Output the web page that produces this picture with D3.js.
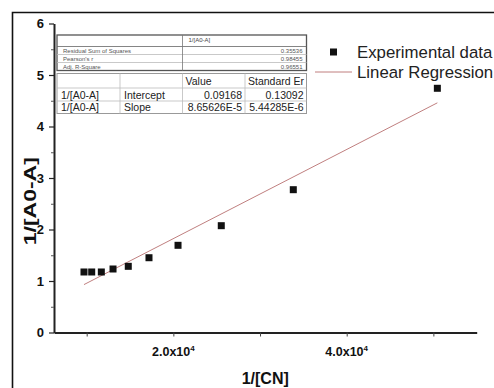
<!DOCTYPE html>
<html>
<head>
<meta charset="utf-8">
<script src="https://cdn.jsdelivr.net/npm/d3@7"></script>
<style>
  html, body { margin: 0; padding: 0; background: #fff; }
  svg { display: block; font-family: "Liberation Sans", Arial, sans-serif; }
</style>
</head>
<body>
<svg id="chart" width="494" height="388"></svg>
<script>
// 1/[CN] versus 1/[A0-A] measurements
const invCN   = [9690, 10580, 11690, 13040, 14800, 17190, 20540, 25530, 33840, 50460];
const invA0A  = [1.175, 1.175, 1.175, 1.233, 1.285, 1.452, 1.693, 2.074, 2.773, 4.742];

// linear fit results
const intercept = 0.09168;
const slope = 8.65626e-5;

// axis ticks
const xMajorTicks = [20000, 40000];
const xAllTicks = [10000, 20000, 30000, 40000, 50000];
const xTickLabels = ["2.0x10", "4.0x10"];
const yMajorTicks = [0, 1, 2, 3, 4, 5, 6];
const yMinorTicks = [0.5, 1.5, 2.5, 3.5, 4.5, 5.5];

// fit statistics tables
const statsHeader = "1/[A0-A]";
const statsNames = ["Residual Sum of Squares", "Pearson's r", "Adj. R-Square"];
const statsValues = ["0.35536", "0.98455", "0.96551"];
const paramHeader = ["", "", "Value", "Standard Er"];
const paramRows = [
  ["1/[A0-A]", "Intercept", "0.09168", "0.13092"],
  ["1/[A0-A]", "Slope", "8.65626E-5", "5.44285E-6"]
];

const legendLabels = ["Experimental data", "Linear Regression"];

const svg = d3.select("#chart");

// outer frame (top and left edges)
svg.append("path")
  .attr("d", "M12.5,388V12.5H494")
  .attr("fill", "none").attr("stroke", "#111").attr("stroke-width", 1.6);

const x = d3.scaleLinear().domain([6230, 55000]).range([54, 476.7]);
const y = d3.scaleLinear().domain([0, 6]).range([332.5, 23.5]);

// x axis
const xAxis = svg.append("g").attr("transform", `translate(0,${y(0)})`)
  .call(d3.axisBottom(x).tickValues(xAllTicks).tickSize(4).tickSizeOuter(0).tickFormat(() => ""));
xAxis.select(".domain").attr("stroke", "#222").attr("stroke-width", 2);
xAxis.selectAll(".tick line").attr("stroke", "#444").attr("stroke-width", 1);

xMajorTicks.forEach((v, i) => {
  const t = svg.append("text")
    .attr("x", x(v)).attr("y", 356)
    .attr("text-anchor", "middle")
    .attr("font-weight", "bold").attr("font-size", 12.5).attr("fill", "#111");
  t.append("tspan").text(xTickLabels[i]);
  t.append("tspan").attr("dy", -5).attr("font-size", 8).text("4");
});

// y axis
const yAxis = svg.append("g").attr("transform", `translate(${x.range()[0]},0)`)
  .call(d3.axisLeft(y).tickValues(yMajorTicks).tickSize(5).tickPadding(5).tickSizeOuter(0).tickFormat(d3.format("d")));
yAxis.select(".domain").attr("stroke", "#222").attr("stroke-width", 2);
yAxis.selectAll(".tick line").attr("stroke", "#222").attr("stroke-width", 1.2);
yAxis.selectAll(".tick text")
  .attr("font-family", "Liberation Sans, Arial, sans-serif")
  .attr("font-weight", "bold").attr("font-size", 13).attr("fill", "#111");

svg.append("g").attr("transform", `translate(${x.range()[0]},0)`)
  .call(d3.axisLeft(y).tickValues(yMinorTicks).tickSize(3).tickFormat(() => ""))
  .call(g => g.select(".domain").remove())
  .selectAll(".tick line").attr("stroke", "#555");

// axis titles
svg.append("text")
  .attr("x", x(30600)).attr("y", 384)
  .attr("text-anchor", "middle")
  .attr("font-weight", "bold").attr("font-size", 16).attr("fill", "#111")
  .text("1/[CN]");

svg.append("text")
  .attr("transform", `translate(36,${y(2.55)}) rotate(-90)`)
  .attr("text-anchor", "middle")
  .attr("font-weight", "bold").attr("font-size", 16).attr("fill", "#111")
  .attr("textLength", 88).attr("lengthAdjust", "spacingAndGlyphs")
  .text("1/[A0-A]");

// regression line across the data range
const xr = d3.extent(invCN);
svg.append("line")
  .attr("x1", x(xr[0])).attr("y1", y(intercept + slope * xr[0]))
  .attr("x2", x(xr[1])).attr("y2", y(intercept + slope * xr[1]))
  .attr("stroke", "#c07f7f").attr("stroke-width", 1);

// data points
const ms = 7;
svg.append("g").selectAll("rect")
  .data(invCN.map((v, i) => [v, invA0A[i]]))
  .join("rect")
  .attr("x", d => x(d[0]) - ms / 2).attr("y", d => y(d[1]) - ms / 2)
  .attr("width", ms).attr("height", ms)
  .attr("fill", "#111");

// legend
const lg = svg.append("g");
lg.append("rect").attr("x", 330).attr("y", 48.5).attr("width", ms).attr("height", ms).attr("fill", "#111");
lg.append("text").attr("x", 357).attr("y", 57.5).attr("font-size", 16.8).attr("fill", "#222").text(legendLabels[0]);
lg.append("line").attr("x1", 315).attr("x2", 352).attr("y1", 72).attr("y2", 72)
  .attr("stroke", "#c07f7f").attr("stroke-width", 1);
lg.append("text").attr("x", 357).attr("y", 77.5).attr("font-size", 16.8).attr("fill", "#222").text(legendLabels[1]);

// statistics table
const tb = svg.append("g");
const tL = 57, tM = 182.5, tR = 306.5;
const sRows = [35, 46.5, 54.5, 62.5, 70.5];
tb.append("rect").attr("x", tL).attr("y", sRows[0]).attr("width", tR - tL).attr("height", sRows[4] - sRows[0])
  .attr("fill", "#fff").attr("stroke", "#555").attr("stroke-width", 1.3);
sRows.slice(1, 4).forEach(r => tb.append("line").attr("x1", tL).attr("x2", tR).attr("y1", r).attr("y2", r)
  .attr("stroke", r === sRows[1] ? "#666" : "#bbb").attr("stroke-width", 0.8));
tb.append("line").attr("x1", tM).attr("x2", tM).attr("y1", sRows[0]).attr("y2", sRows[4])
  .attr("stroke", "#777").attr("stroke-width", 0.8);
tb.append("text").attr("x", tM + 6).attr("y", sRows[0] + 7).attr("font-size", 6).attr("fill", "#444").text(statsHeader);
statsNames.forEach((n, i) => {
  tb.append("text").attr("x", tL + 6).attr("y", sRows[i + 1] + 6.5).attr("font-size", 6).attr("fill", "#555").text(n);
  tb.append("text").attr("x", tR - 4).attr("y", sRows[i + 1] + 6.5).attr("text-anchor", "end")
    .attr("font-size", 6).attr("fill", "#555").text(statsValues[i]);
});

// parameter table
const pCols = [57, 120, 182.5, 245, 306.5];
const pRows = [73.5, 88, 101, 113.5];
tb.append("rect").attr("x", pCols[0]).attr("y", pRows[0]).attr("width", pCols[4] - pCols[0]).attr("height", pRows[3] - pRows[0])
  .attr("fill", "#fff").attr("stroke", "#999").attr("stroke-width", 1);
pRows.slice(1, 3).forEach(r => tb.append("line").attr("x1", pCols[0]).attr("x2", pCols[4]).attr("y1", r).attr("y2", r)
  .attr("stroke", "#bbb").attr("stroke-width", 0.8));
pCols.slice(1, 4).forEach(c => tb.append("line").attr("x1", c).attr("x2", c).attr("y1", pRows[0]).attr("y2", pRows[3])
  .attr("stroke", "#bbb").attr("stroke-width", 0.8));
paramHeader.forEach((h, j) => {
  if (!h) return;
  tb.append("text").attr("x", pCols[j] + 3).attr("y", pRows[1] - 3).attr("font-size", 10.5).attr("fill", "#222").text(h);
});
paramRows.forEach((row, i) => {
  row.forEach((cell, j) => {
    const right = j >= 2;
    tb.append("text")
      .attr("x", right ? pCols[j + 1] - 3 : pCols[j] + 4)
      .attr("y", pRows[i + 2] - 2.5)
      .attr("text-anchor", right ? "end" : "start")
      .attr("font-size", 10.5).attr("fill", "#222").text(cell);
  });
});
</script>
</body>
</html>
